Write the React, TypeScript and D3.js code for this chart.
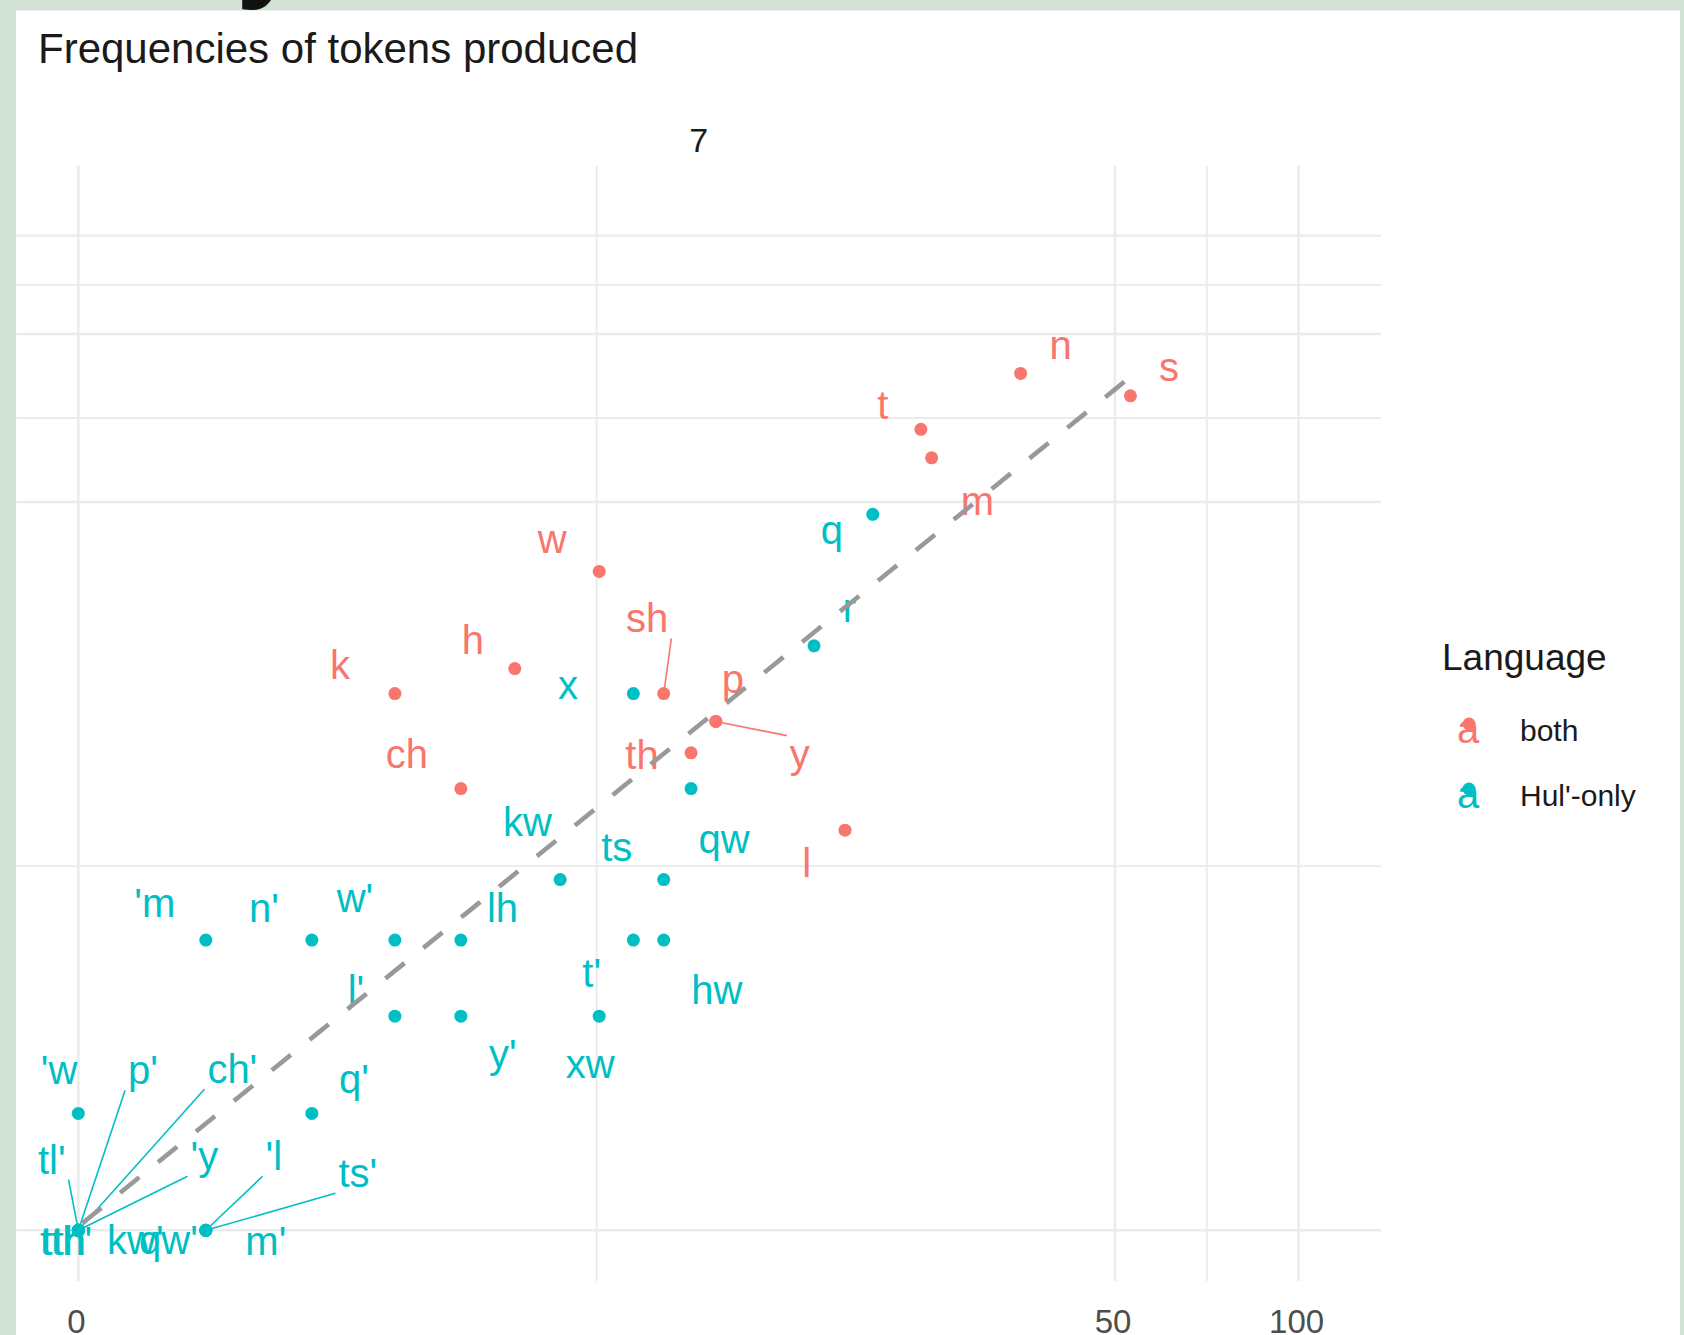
import React, { useEffect } from "react";
import * as d3 from "d3";

// Phoneme token counts for facet "7" (x: first count, y: second count)
const bothPhonemes = ["n", "s", "t", "m", "w", "h", "k", "sh", "p", "y", "th", "ch", "l"];
const bothX = [35, 53, 24, 25, 7, 5, 3, 9, 11, 11, 10, 4, 18];
const bothY = [34, 31, 27, 24, 15, 10, 9, 9, 8, 8, 7, 6, 5];

const hulPhonemes = [
  "q", "r", "x", "kw", "ts", "qw", "lh", "t'", "hw", "y'", "xw", "'m", "n'", "w'", "l'", "'w", "q'",
  "p'", "ch'", "tl'", "'y", "tth'", "tth", "kw'",
  "qw'", "'l", "ts'", "m'",
];
const hulX = [20, 16, 8, 6, 9, 10, 4, 8, 9, 4, 7, 1, 2, 3, 3, 0, 2, 0, 0, 0, 0, 0, 0, 0, 1, 1, 1, 1];
const hulY = [19, 11, 9, 4, 4, 6, 3, 3, 3, 2, 2, 3, 3, 3, 2, 1, 1, 0, 0, 0, 0, 0, 0, 0, 0, 0, 0, 0];

// Repelled label placement: pixel nudge from the point to the label (centre, baseline), and whether a leader segment is drawn
const bothLabelNudge: [number, number, boolean][] = [
  [40, -14.5, false], [38.5, -15, false], [-38, -10.4, false], [45.8, 57, false], [-47, -18, false],
  [-42, -14.6, false], [-55, -15, false], [-16.5, -61.2, true], [17, -28, false], [84, 47, true],
  [-49, 16, false], [-54, -21, false], [-38.4, 47, false],
];
const hulLabelNudge: [number, number, boolean][] = [
  [-41, 30, false], [35.4, -24, false], [-65.4, 5, false], [-32.7, -44, false], [-47, -19, false],
  [33, 64.6, false], [41.6, -17.8, false], [-41.7, 47.2, false], [53, 63.8, false], [42, 52, false],
  [-9, 62, false], [-51, -23, false], [-48, -18, false], [-40, -28, false], [-39, -12.4, false],
  [-19.3, -29.7, false], [42, -20, false],
  [64.7, -146, true], [154, -147, true], [-26.6, -56.7, true], [126, -60, true], [-12.3, 25, false],
  [-14.5, 25, false], [57, 24, false],
  [-37.4, 24, false], [68, -60, true], [152, -43, true], [60, 25, false],
];

const groups = ["both", "Hul'-only"];
const groupColors = ["#F8766D", "#00BFC4"];

// Shared facet scale limits and breaks
const xLimits = [0, 108];
const yLimits = [0, 65];
const xBreaks = [0, 50, 100];
const yBreaks = [0, 20, 40, 60];
const facetLabel = "7";
const title = "Frequencies of tokens produced";

const W = 1684;
const H = 1335;
const PANEL = { left: 16.3, right: 1381, top: 165.5, bottom: 1281 };
const FONT = "'Liberation Sans', Arial, sans-serif";
const LABEL_SIZE = 40;

// pseudo-log transform (sigma = 1)
const tr = (v: number) => Math.asinh(v / 2);

function expandDomain(lim: number[]) {
  const a = tr(lim[0]);
  const b = tr(lim[1]);
  const pad = (b - a) * 0.05;
  return [a - pad, b + pad];
}

const xLin = d3.scaleLinear().domain(expandDomain(xLimits)).range([PANEL.left, PANEL.right]);
const yLin = d3.scaleLinear().domain(expandDomain(yLimits)).range([PANEL.bottom, PANEL.top]);
const sx = (v: number) => xLin(tr(v));
const sy = (v: number) => yLin(tr(v));

function midBreaks(b: number[]) {
  const t = b.map(tr);
  const out: number[] = [];
  for (let i = 0; i < t.length - 1; i++) out.push((t[i] + t[i + 1]) / 2);
  return out;
}

let measureCtx: CanvasRenderingContext2D | null = null;
function textWidth(s: string, size: number) {
  if (!measureCtx) measureCtx = document.createElement("canvas").getContext("2d");
  if (!measureCtx) return s.length * size * 0.5;
  measureCtx.font = `${size}px 'Liberation Sans', Arial, sans-serif`;
  return measureCtx.measureText(s).width;
}

type Item = { label: string; x: number; y: number; g: number; nudge: [number, number, boolean] };

const items: Item[] = [
  ...bothPhonemes.map((label, i) => ({ label, x: bothX[i], y: bothY[i], g: 0, nudge: bothLabelNudge[i] })),
  ...hulPhonemes.map((label, i) => ({ label, x: hulX[i], y: hulY[i], g: 1, nudge: hulLabelNudge[i] })),
];

// straight-line fit on the transformed scales
function linearFit() {
  const xs = items.map((d) => tr(d.x));
  const ys = items.map((d) => tr(d.y));
  const mx = d3.mean(xs) as number;
  const my = d3.mean(ys) as number;
  const sxy = d3.sum(xs, (x, i) => (x - mx) * (ys[i] - my));
  const sxx = d3.sum(xs, (x) => (x - mx) * (x - mx));
  const slope = sxy / sxx;
  const intercept = my - slope * mx;
  const [x0, x1] = d3.extent(xs) as [number, number];
  return d3.range(80).map((i) => {
    const t = x0 + ((x1 - x0) * i) / 79;
    return [xLin(t), yLin(intercept + slope * t)] as [number, number];
  });
}

function segmentEnd(px: number, py: number, cx: number, base: number, w: number) {
  const x0 = cx - w / 2 - 3;
  const x1 = cx + w / 2 + 3;
  const y0 = base - LABEL_SIZE * 0.72 - 4;
  const y1 = base + 6;
  const xm = (x0 + x1) / 2;
  const ym = (y0 + y1) / 2;
  const cands: [number, number][] = [
    [x0, y0], [xm, y0], [x1, y0], [x0, ym], [x1, ym], [x0, y1], [xm, y1], [x1, y1],
  ];
  let best = cands[0];
  let bd = Infinity;
  for (const c of cands) {
    const d = Math.hypot(c[0] - px, c[1] - py);
    if (d < bd) {
      bd = d;
      best = c;
    }
  }
  return best;
}

export default function App() {
  useEffect(() => {
    document.body.style.margin = "0";
  }, []);

  const fit = linearFit();
  const fitPath = d3.line()(fit) || "";

  const xMinor = midBreaks(xBreaks);
  const yMinor = midBreaks(yBreaks);

  const placed = items.map((d) => {
    const px = sx(d.x);
    const py = sy(d.y);
    const lx = px + d.nudge[0];
    const ly = py + d.nudge[1];
    const w = textWidth(d.label, LABEL_SIZE);
    const seg = d.nudge[2] ? segmentEnd(px, py, lx, ly, w) : null;
    return { ...d, px, py, lx, ly, seg };
  });

  return (
    <svg
      width={W}
      height={H}
      viewBox={`0 0 ${W} ${H}`}
      style={{ position: "absolute", left: 0, top: 0, display: "block" }}
      fontFamily={FONT}
    >
      <rect x={0} y={0} width={W} height={H} fill="#d1e2d4" />
      <text x={236} y={-15} fontSize={120} fontWeight="bold" fill="#111">
        y
      </text>
      <rect x={16} y={10.5} width={1664} height={H - 10.5} fill="#ffffff" />

      <text x={38} y={63} fontSize={42} fill="#1a1a1a">
        {title}
      </text>

      <text x={(PANEL.left + PANEL.right) / 2} y={151.5} fontSize={34} fill="#1a1a1a" textAnchor="middle">
        {facetLabel}
      </text>

      <g stroke="#ebebeb" fill="none">
        {yMinor.map((t, i) => (
          <line key={`ym${i}`} x1={PANEL.left} x2={PANEL.right} y1={yLin(t)} y2={yLin(t)} strokeWidth={1.9} />
        ))}
        {xMinor.map((t, i) => (
          <line key={`xm${i}`} y1={PANEL.top} y2={PANEL.bottom} x1={xLin(t)} x2={xLin(t)} strokeWidth={1.9} />
        ))}
        {yBreaks.map((v) => (
          <line key={`yb${v}`} x1={PANEL.left} x2={PANEL.right} y1={sy(v)} y2={sy(v)} strokeWidth={2.4} />
        ))}
        {xBreaks.map((v) => (
          <line key={`xb${v}`} y1={PANEL.top} y2={PANEL.bottom} x1={sx(v)} x2={sx(v)} strokeWidth={2.4} />
        ))}
      </g>

      <g>
        {placed.map((d, i) => (
          <circle key={`p${i}`} cx={d.px} cy={d.py} r={6.5} fill={groupColors[d.g]} />
        ))}
      </g>

      <g strokeWidth={1.6}>
        {placed
          .filter((d) => d.seg)
          .map((d, i) => (
            <line
              key={`s${i}`}
              x1={d.px}
              y1={d.py}
              x2={(d.seg as [number, number])[0]}
              y2={(d.seg as [number, number])[1]}
              stroke={groupColors[d.g]}
            />
          ))}
      </g>

      <g fontSize={LABEL_SIZE} textAnchor="middle">
        {placed.map((d, i) => (
          <text key={`l${i}`} x={d.lx} y={d.ly} fill={groupColors[d.g]}>
            {d.label}
          </text>
        ))}
      </g>

      <path
        d={fitPath}
        fill="none"
        stroke="#999999"
        strokeWidth={4.6}
        strokeDasharray="24.5 24.2"
        strokeDashoffset={43.6}
      />

      <g fontSize={33} fill="#4d4d4d" textAnchor="middle">
        {xBreaks.map((v) => (
          <text key={`xt${v}`} x={sx(v) - 2} y={1333}>
            {v}
          </text>
        ))}
      </g>

      <g>
        <text x={1442} y={670} fontSize={37} fill="#1a1a1a">
          Language
        </text>
        {groups.map((g, i) => (
          <g key={g} transform={`translate(0, ${i * 65})`}>
            <circle cx={1469} cy={724} r={6.5} fill={groupColors[i]} />
            <text x={1468} y={743} fontSize={LABEL_SIZE} textAnchor="middle" fill={groupColors[i]}>
              a
            </text>
            <text x={1520} y={741} fontSize={30} fill="#1a1a1a">
              {g}
            </text>
          </g>
        ))}
      </g>
    </svg>
  );
}
